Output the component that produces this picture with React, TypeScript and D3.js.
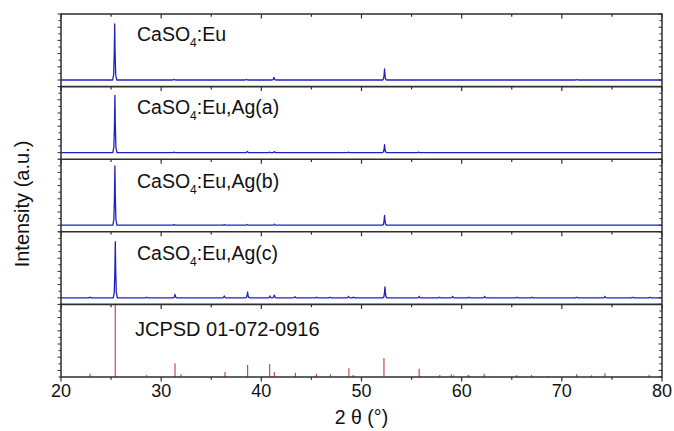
import React from 'react';
import * as d3 from 'd3';

// ---------- data ----------
const xTickValues = [20, 30, 40, 50, 60, 70, 80];
const xMinorValues = [25, 35, 45, 55, 65, 75];

const labelPrefix = ['CaSO', 'CaSO', 'CaSO', 'CaSO'];
const labelSuffix = [':Eu', ':Eu,Ag(a)', ':Eu,Ag(b)', ':Eu,Ag(c)'];
const refLabel = 'JCPSD 01-072-0916';

// [2θ, intensity] peaks
const peaksEu: [number, number][] = [
  [25.36, 102], [31.3, 1], [38.5, 1], [41.26, 5], [52.3, 20], [71.5, 0.8],
];
const peaksAgA: [number, number][] = [
  [25.38, 104], [31.3, 1], [38.6, 2], [40.8, 1], [41.3, 1.5], [48.7, 1], [52.3, 14.5], [55.7, 1],
];
const peaksAgB: [number, number][] = [
  [25.38, 108], [31.3, 1], [36.3, 1], [38.6, 1.5], [41.3, 2], [52.3, 18],
];
const peaksAgC: [number, number][] = [
  [22.9, 1.2], [25.42, 102], [28.55, 1], [31.38, 6], [36.3, 3.5], [38.63, 10.5], [40.86, 3.5],
  [41.29, 5], [43.35, 2], [45.5, 1], [46.85, 1], [48.7, 2.5], [49.2, 1.2], [52.34, 20],
  [55.76, 2.5], [57.8, 1], [59.1, 2.5], [60.7, 1], [62.3, 2.5], [65.5, 1], [67.0, 1],
  [71.5, 1], [74.3, 2.5], [77.1, 1], [78.8, 1],
];

// reference sticks [2θ, relative intensity]
const refSticks: [number, number][] = [
  [22.9, 4.5], [25.42, 100], [28.55, 2.3], [31.38, 19], [31.98, 3.7], [36.37, 7],
  [38.63, 16.5], [40.83, 18], [41.3, 7], [43.4, 6], [45.5, 4.5], [46.9, 3.7],
  [48.74, 12], [49.17, 2.8], [52.24, 26], [55.76, 11.4], [57.82, 2.8], [58.96, 3.7],
  [59.2, 2.3], [60.65, 3.2], [60.8, 1.8], [62.25, 4.5], [65.48, 2.3], [66.97, 2.8],
  [68.6, 1.4], [71.47, 3.7], [72.97, 2.3], [74.3, 5], [78.72, 3.2],
];

const seriesPeaks = [peaksEu, peaksAgA, peaksAgB, peaksAgC];

// ---------- layout / style ----------
const W = 674, H = 431;
const L = 61, R = 662, T = 14, B = 377;
const nPanels = 5;
const ph = (B - T) / nPanels;
const FONT = '"Liberation Sans", Arial, Helvetica, sans-serif';
const FRAME = '#2e2e2e';
const BLUE = '#2020c0';
const RED = '#d04848';
const labelOffsets = [27, 27, 29, 28, 32];

// narrow peak glyph (offset in degrees, fraction of peak height)
const peakShape: [number, number][] = [
  [-0.2, 0], [-0.1, 0.1], [-0.04, 0.5], [0, 1], [0.04, 0.5], [0.1, 0.1], [0.2, 0],
];

const x = d3.scaleLinear().domain([20, 80]).range([L, R]);

function panelTop(i: number) { return T + i * ph; }

function buildProfile(peaks: [number, number][]): [number, number][] {
  const pts: [number, number][] = [[20, 0]];
  peaks.slice().sort((a, b) => a[0] - b[0]).forEach(([p, h]) => {
    peakShape.forEach(([dx, f]) => pts.push([p + dx, h * f]));
  });
  pts.push([80, 0]);
  return pts;
}

export default function App() {
  const tickIdx = d3.range(0, 12);
  return (
    <svg width={W} height={H} style={{ position: 'absolute', left: 0, top: 0, background: '#fff' }}
      fontFamily={FONT}>
      <defs>
        {d3.range(nPanels).map(i => (
          <clipPath id={`clip${i}`} key={i}>
            <rect x={L} y={panelTop(i)} width={R - L} height={ph} />
          </clipPath>
        ))}
      </defs>

      {/* blue series */}
      {seriesPeaks.map((peaks, i) => {
        const y = d3.scaleLinear().domain([-12, 120]).range([panelTop(i) + ph, panelTop(i)]);
        const line = d3.line<[number, number]>().x(d => x(d[0])).y(d => y(d[1]));
        return (
          <path key={i} d={line(buildProfile(peaks)) || ''} fill="none" stroke={BLUE}
            strokeWidth={1.3} clipPath={`url(#clip${i})`} strokeLinejoin="round" />
        );
      })}

      {/* reference sticks */}
      {(() => {
        const i = 4;
        const y = d3.scaleLinear().domain([0, 100]).range([panelTop(i) + ph, panelTop(i)]);
        return (
          <g clipPath={`url(#clip${i})`}>
            {refSticks.map(([p, h], k) => (
              <line key={k} x1={x(p)} x2={x(p)} y1={y(0)} y2={y(h)} stroke={RED} strokeWidth={1.2} />
            ))}
          </g>
        );
      })()}

      {/* ticks */}
      {d3.range(nPanels + 1).map(i => {
        const yy = panelTop(i);
        return (
          <g key={`xt${i}`} stroke={FRAME} strokeWidth={1.2}>
            {xTickValues.map(v => <line key={v} x1={x(v)} x2={x(v)} y1={yy} y2={yy + 4.5} />)}
            {xMinorValues.map(v => <line key={`m${v}`} x1={x(v)} x2={x(v)} y1={yy} y2={yy + 2.8} />)}
          </g>
        );
      })}
      {d3.range(nPanels).map(i => {
        const ty = d3.scaleLinear().domain([0, 11]).range([panelTop(i) + ph, panelTop(i)]);
        return (
          <g key={`yt${i}`} stroke={FRAME} strokeWidth={1}>
            {tickIdx.map(k => {
              const len = k % 2 === 1 ? 3.5 : 2.5;
              return (
                <g key={k}>
                  <line x1={L - len} x2={L} y1={ty(k)} y2={ty(k)} />
                  <line x1={R - len} x2={R} y1={ty(k)} y2={ty(k)} />
                </g>
              );
            })}
          </g>
        );
      })}

      {/* frame and separators */}
      <rect x={L} y={T} width={R - L} height={B - T} fill="none" stroke={FRAME} strokeWidth={1.5} />
      {d3.range(1, nPanels).map(i => (
        <line key={`sep${i}`} x1={L} x2={R} y1={panelTop(i)} y2={panelTop(i)} stroke={FRAME} strokeWidth={1.6} />
      ))}

      {/* panel labels */}
      {labelPrefix.map((pre, i) => (
        <text key={`lab${i}`} x={137} y={panelTop(i) + labelOffsets[i]} fontSize={19.5} fill="#111">
          {pre}
          <tspan fontSize={12} dy={6}>4</tspan>
          <tspan dy={-6}>{labelSuffix[i]}</tspan>
        </text>
      ))}
      <text x={135} y={panelTop(4) + labelOffsets[4]} fontSize={20} fill="#111">{refLabel}</text>

      {/* x tick labels */}
      {xTickValues.map(v => (
        <text key={`xl${v}`} x={x(v)} y={397} fontSize={18} textAnchor="middle" fill="#111">{v}</text>
      ))}

      {/* axis titles */}
      <text x={(L + R) / 2} y={424} fontSize={19.5} textAnchor="middle" fill="#111">2 θ (°)</text>
      <text transform={`translate(28.5,204) rotate(-90)`} fontSize={20} textAnchor="middle" fill="#111">
        Intensity (a.u.)
      </text>
    </svg>
  );
}
